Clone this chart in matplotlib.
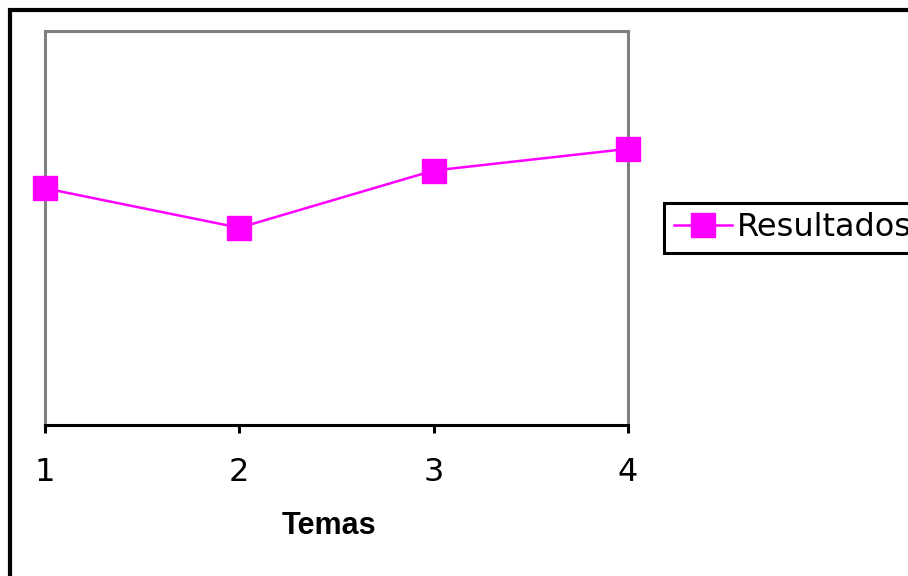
import matplotlib
matplotlib.use('Agg')
import matplotlib.pyplot as plt
from matplotlib.lines import Line2D

# data
temas = [1, 2, 3, 4]
resultados = [6.0, 5.0, 6.45, 7.0]
serie_label = 'Resultados'
x_label = 'Temas'

W, H = 908, 576
fig = plt.figure(figsize=(W / 100, H / 100), dpi=100)
fig.patch.set_facecolor('white')


def px(x, y):
    # pixel (from top-left) -> figure fraction
    return x / W, 1 - y / H


# outer chart border: only left and top edges fall inside the image
bx, by = zip(px(10, H + 20), px(10, 10), px(W + 20, 10))
fig.add_artist(Line2D(bx, by, color='black', linewidth=3,
                      transform=fig.transFigure, solid_joinstyle='miter'))

ax = fig.add_axes([45 / W, 1 - 425 / H, (628 - 45) / W, (425 - 30.5) / H])
line, = ax.plot(temas, resultados, color='#FF00FF', linewidth=1.8, marker='s',
                markersize=17, markerfacecolor='#FF00FF', markeredgecolor='#FF00FF',
                label=serie_label, clip_on=False, zorder=5)

ax.set_xlim(1, 4)
ax.set_ylim(0, 10)
ax.set_xticks(temas)
ax.set_xticklabels([str(t) for t in temas], fontsize=23, family='DejaVu Sans')
ax.set_yticks([])
ax.tick_params(axis='x', direction='out', length=6, width=2.2, color='black', pad=17)

for side in ['top', 'left', 'right']:
    ax.spines[side].set_color('#808080')
    ax.spines[side].set_linewidth(2.2)
ax.spines['bottom'].set_color('black')
ax.spines['bottom'].set_linewidth(2.2)

fig.text(329 / W, 1 - 526 / H, x_label, ha='center', va='center',
         fontsize=22, fontweight='bold', family='Liberation Sans')

leg = ax.legend([line], [serie_label], loc='center left',
                bbox_to_anchor=px(663, 228),
                bbox_transform=fig.transFigure, fancybox=False, shadow=False,
                frameon=False, borderaxespad=0, borderpad=0.35,
                handlelength=1.8, handletextpad=0.16,
                prop={'size': 23, 'family': 'DejaVu Sans'})

# legend box, open on the right where it runs off the image
lx, ly = zip(px(W + 20, 202.5), px(663.5, 202.5), px(663.5, 253), px(W + 20, 253))
fig.add_artist(Line2D(lx, ly, color='black', linewidth=2.2,
                      transform=fig.transFigure, solid_joinstyle='miter'))

fig.savefig('out.png', dpi=100)
